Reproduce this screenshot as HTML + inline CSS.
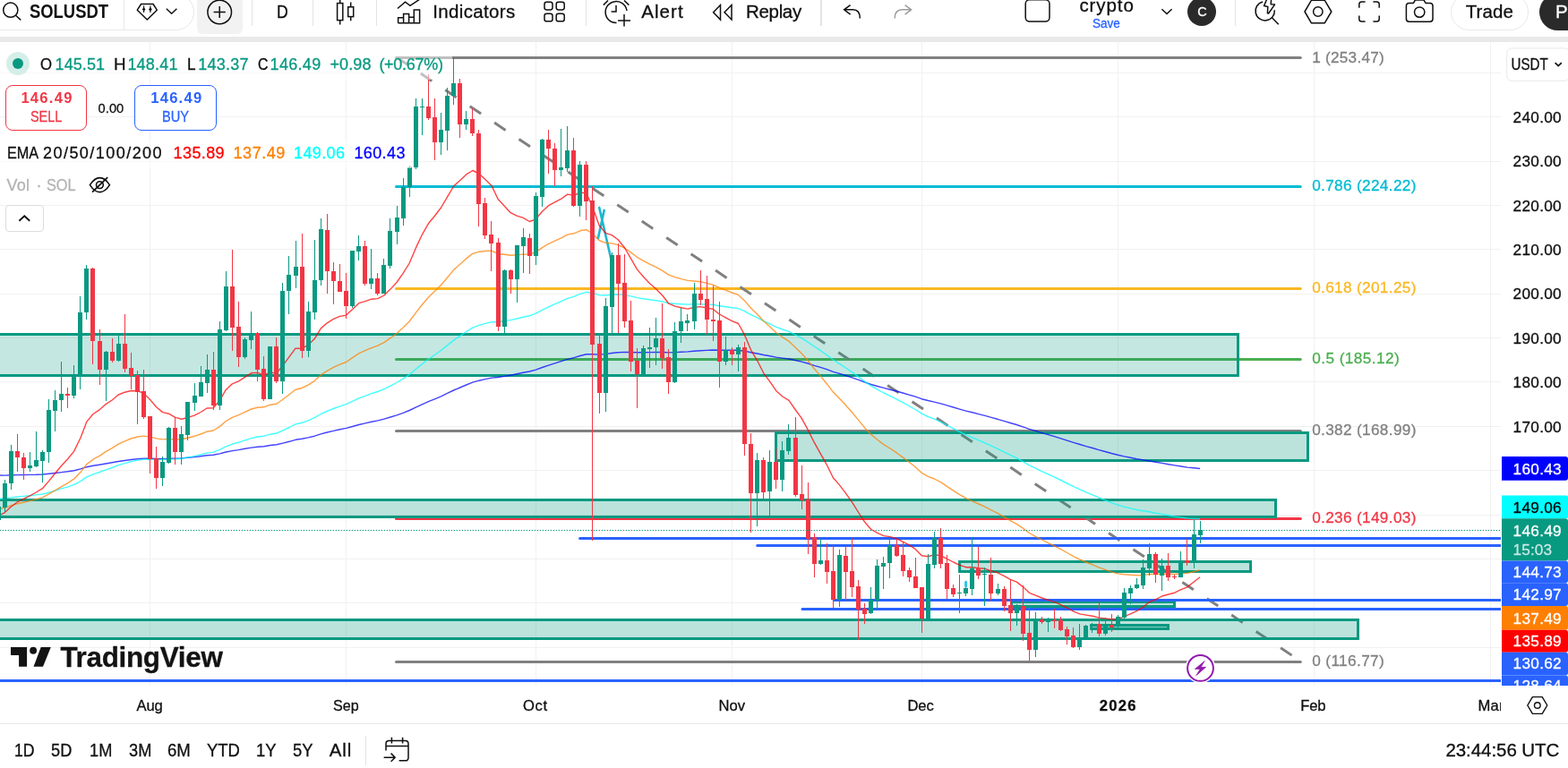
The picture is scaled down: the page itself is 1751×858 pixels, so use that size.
<!DOCTYPE html>
<html lang="en">
<head>
<meta charset="utf-8">
<title>SOLUSDT chart</title>
<style>
*{box-sizing:border-box;margin:0;padding:0}
html,body{width:1751px;height:858px;overflow:hidden;background:#fff}
body{font-family:"Liberation Sans",sans-serif;color:#0f0f0f;position:relative}
.t{position:absolute;white-space:nowrap;display:block;-webkit-text-stroke:0.3px currentColor}
.abs{position:absolute}
#topbar{position:absolute;left:0;top:0;width:1751px;height:41px;background:#fff;overflow:hidden}
#sep{position:absolute;left:0;top:41px;width:1751px;height:6px;background:#e9e9e9}
#pane{position:absolute;left:0;top:47px;width:1676px;height:719px;overflow:hidden;background:#fff}
#pane svg.chart{position:absolute;left:0;top:0}
#paxis{position:absolute;left:1676px;top:47px;width:75px;height:719px;overflow:hidden;background:#fff}
#taxis{position:absolute;left:0;top:766px;width:1751px;height:43px;background:#fff;border-bottom:1px solid #e6e6e6;overflow:hidden}
#bbar{position:absolute;left:0;top:809px;width:1751px;height:49px;background:#fff;overflow:hidden}
#legend{position:absolute;left:0;top:47px;width:520px;height:220px}
.vsep{position:absolute;width:1px;background:#e3e3e3}
</style>
</head>
<body>
<div id="topbar">
<div class="abs" style="left:-22px;top:-7px;width:239px;height:41px;border:1px solid #e8e8e8;border-radius:21px"></div>
<div class="vsep" style="left:138px;top:0;height:34px;background:#e8e8e8"></div>
<svg class="abs" style="left:0;top:0" width="30" height="30" viewBox="0 0 30 30"><circle cx="11.8" cy="11.2" r="8.1" fill="none" stroke="#0f0f0f" stroke-width="1.5"/><path d="M17.6 17.3L23.2 22.4" stroke="#0f0f0f" stroke-width="1.5" fill="none"/></svg>
<span class="t" style="left:33.40px;top:0.90px;font-size:21.4px;line-height:24px;color:#0f0f0f;font-weight:700;-webkit-text-stroke:0;transform:scaleX(0.8606);transform-origin:0 0;">SOLUSDT</span>
<svg class="abs" style="left:150px;top:0" width="52" height="30" viewBox="150 0 52 30" fill="none" stroke="#0f0f0f" stroke-width="1.5" stroke-linejoin="round"><path d="M157.6 4.5H171L175.3 11.2L164.3 22L153.3 11.2z"/><path d="M160.6 6.6V14M167.9 6.6V14" stroke-width="1.1"/><path d="M160.6 8.2L162.5 10.4L160.6 12.6L158.7 10.4zM167.9 8.2L169.8 10.4L167.9 12.6L166 10.4z" fill="#0f0f0f" stroke="none"/><path d="M185.8 9.8L191.6 15.2L197.4 9.8"/></svg>
<div class="abs" style="left:220px;top:-6px;width:51px;height:44px;background:#f2f2f2;border-radius:6px"></div>
<svg class="abs" style="left:225px;top:0" width="40" height="30" viewBox="225 0 40 30" fill="none" stroke="#0f0f0f" stroke-width="1.5"><circle cx="245.2" cy="13.5" r="13.3"/><path d="M238.6 13.5H251.8M245.2 6.9V20.1"/></svg>
<div class="vsep" style="left:280.5px;top:0;height:29px;width:1.4px"></div>
<div class="vsep" style="left:349.0px;top:0;height:29px;width:1.4px"></div>
<div class="vsep" style="left:420.0px;top:0;height:29px;width:1.4px"></div>
<div class="vsep" style="left:653.5px;top:0;height:29px;width:1.4px"></div>
<div class="vsep" style="left:916.2px;top:0;height:29px;width:1.4px"></div>
<div class="vsep" style="left:1378.5px;top:0;height:29px;width:1.4px"></div>
<span class="t" style="left:309.00px;top:0.90px;font-size:20.5px;line-height:23px;color:#0f0f0f;transform:scaleX(0.86);transform-origin:0 0;">D</span>
<svg class="abs" style="left:370px;top:0" width="32" height="30" viewBox="370 0 32 30" fill="none" stroke="#0f0f0f" stroke-width="1.5"><path d="M379.7 -1V3.6M379.7 22.6V27.6M391.7 2.5V7.8M391.7 18.6V23.2"/><rect x="376.6" y="3.6" width="6.2" height="19"/><rect x="388.7" y="7.8" width="6" height="10.8"/></svg>
<svg class="abs" style="left:440px;top:0" width="34" height="30" viewBox="440 0 34 30" fill="none" stroke="#0f0f0f" stroke-width="1.5" stroke-linejoin="miter"><path d="M444 9.5L452.5 2.2L458 6.3L469 -1"/><path d="M444.6 25.8V19.8H450.6V25.8M450.6 25.8V15.6H456.6V19.3M456.6 25.8V19.3H462.3V25.8M462.3 19.3V11H468.6V25.8H444.6"/></svg>
<span class="t" style="left:483.20px;top:0.90px;font-size:20.5px;line-height:23px;color:#0f0f0f;letter-spacing:0.347px;">Indicators</span>
<svg class="abs" style="left:604px;top:0" width="30" height="30" viewBox="604 0 30 30" fill="none" stroke="#0f0f0f" stroke-width="1.5"><rect x="608" y="2.3" width="9" height="8.6" rx="2.4"/><rect x="621.2" y="2.3" width="9" height="8.6" rx="2.4"/><rect x="608" y="15.2" width="9" height="8.6" rx="2.4"/><rect x="621.2" y="15.2" width="9" height="8.6" rx="2.4"/></svg>
<svg class="abs" style="left:668px;top:0" width="40" height="32" viewBox="668 0 40 32" fill="none" stroke="#0f0f0f" stroke-width="1.5"><path d="M688.5 25.6A12 12 0 1 1 700 12"/><path d="M688 6V13H682.6"/><path d="M673.8 5.6L679 0.5M697 0.5L702.4 5.6"/><path d="M690 23H704M697 16V29.6"/></svg>
<span class="t" style="left:716.20px;top:0.90px;font-size:20.5px;line-height:23px;color:#0f0f0f;letter-spacing:1.062px;">Alert</span>
<svg class="abs" style="left:790px;top:0" width="32" height="30" viewBox="790 0 32 30" fill="none" stroke="#0f0f0f" stroke-width="1.5" stroke-linejoin="miter"><path d="M804.5 5.5V22L796.6 13.7z"/><path d="M817 5.5V22L809 13.7z"/></svg>
<span class="t" style="left:833.00px;top:0.90px;font-size:20.5px;line-height:23px;color:#0f0f0f;letter-spacing:-0.323px;">Replay</span>
<svg class="abs" style="left:936px;top:0" width="90" height="30" viewBox="936 0 90 30" fill="none" stroke-width="1.5"><path d="M949.6 5.6L942.6 10.8L949.6 16.2M942.8 10.8H952.5Q960.3 10.8 960.3 20.5" stroke="#0f0f0f"/><path d="M1010.6 5.6L1017.6 10.8L1010.6 16.2M1017.4 10.8H1007.5Q999.2 10.8 999.2 20.5" stroke="#9c9c9c"/></svg>
<svg class="abs" style="left:1140px;top:0" width="40" height="30" viewBox="1140 0 40 30" fill="none" stroke="#0f0f0f" stroke-width="1.5"><rect x="1145.2" y="-0.2" width="26.8" height="24.2" rx="4.5"/></svg>
<span class="t" style="left:1205.40px;top:-6.50px;font-size:20.5px;line-height:23px;color:#0f0f0f;letter-spacing:0.915px;">crypto</span>
<span class="t" style="left:1220.40px;top:16.60px;font-size:15.2px;line-height:17px;color:#2962ff;transform:scaleX(0.8890);transform-origin:0 0;">Save</span>
<svg class="abs" style="left:1290px;top:0" width="26" height="30" viewBox="1290 0 26 30" fill="none" stroke="#0f0f0f" stroke-width="1.5"><path d="M1297.4 10.2L1303 15.5L1308.6 10.2"/></svg>
<div class="abs" style="left:1325.6px;top:-3.4px;width:32.4px;height:32.4px;border-radius:50%;background:#2a2a2a"></div>
<span class="t" style="left:1337.20px;top:5.00px;font-size:14.5px;line-height:16px;color:#fff;">C</span>
<svg class="abs" style="left:1398px;top:0" width="34" height="32" viewBox="1398 0 34 32" fill="none" stroke="#0f0f0f" stroke-width="1.5" stroke-linejoin="round"><path d="M1410.1 1.9A10.65 10.65 0 1 0 1423.3 11.3"/><path d="M1420.5 19.8L1427.8 27.3"/><path d="M1414.7 -1L1411.5 6.6L1415.8 7.4L1415.4 14.8L1416.6 15L1423.5 5.1L1419.2 4.7L1419.6 -1"/></svg>
<svg class="abs" style="left:1452px;top:0" width="40" height="30" viewBox="1452 0 40 30" fill="none" stroke="#0f0f0f" stroke-width="1.5" stroke-linejoin="round"><path d="M1464.5 0.2H1479.2L1486.8 13L1479.2 25.8H1464.5L1457 13z"/><circle cx="1471.8" cy="13" r="5.2"/></svg>
<svg class="abs" style="left:1512px;top:0" width="34" height="30" viewBox="1512 0 34 30" fill="none" stroke="#0f0f0f" stroke-width="1.5"><path d="M1517.8 8.8V4.8Q1517.8 2 1520.6 2H1524.6M1533.4 2H1537.4Q1540.2 2 1540.2 4.8V8.8M1540.2 17.4V21.2Q1540.2 24 1537.4 24H1533.4M1524.6 24H1520.6Q1517.8 24 1517.8 21.2V17.4"/></svg>
<svg class="abs" style="left:1565px;top:0" width="40" height="30" viewBox="1565 0 40 30" fill="none" stroke="#0f0f0f" stroke-width="1.5" stroke-linejoin="round"><path d="M1573.6 3.4H1578.4L1580.4 0H1590L1592 3.4H1596.8Q1600 3.4 1600 6.6V21Q1600 24.2 1596.8 24.2H1573.6Q1570.4 24.2 1570.4 21V6.6Q1570.4 3.4 1573.6 3.4z"/><circle cx="1585.2" cy="13.6" r="5.7"/></svg>
<div class="abs" style="left:1620px;top:-7px;width:87px;height:41px;border:1px solid #e8e8e8;border-radius:21px"></div>
<span class="t" style="left:1636.80px;top:0.90px;font-size:20.5px;line-height:23px;color:#0f0f0f;letter-spacing:0.052px;">Trade</span>
<div class="abs" style="left:1718.6px;top:-7px;width:120px;height:41px;border-radius:21px;background:#2a2a2a"></div>
<span class="t" style="left:1737.00px;top:0.90px;font-size:20.5px;line-height:23px;color:#fff;">Publish</span>
</div>
<div id="sep"></div>
<div id="pane">
<svg class="chart" width="1676" height="719" viewBox="0 47 1676 719" font-family='"Liberation Sans", sans-serif'>
<path d="M0 81.5H1676 M0 130.5H1676 M0 180.5H1676 M0 229.5H1676 M0 278.5H1676 M0 328.5H1676 M0 377.5H1676 M0 426.5H1676 M0 476.5H1676 M0 525.5H1676 M0 575.5H1676 M0 624.5H1676 M0 673.5H1676 M0 723.5H1676 M167.5 47V766 M386.5 47V766 M598.5 47V766 M817.5 47V766 M1029.5 47V766 M1248.5 47V766 M1467.5 47V766 M1664.5 47V766" stroke="#f1f1f1" stroke-width="1" fill="none"/>
<path d="M442.5 64.5H1452.3" stroke="#808080" stroke-width="3" stroke-linecap="round" fill="none"/>
<path d="M442.5 208.5H1452.3" stroke="#00bcd4" stroke-width="3" stroke-linecap="round" fill="none"/>
<path d="M442.5 322.5H1452.3" stroke="#fab823" stroke-width="3" stroke-linecap="round" fill="none"/>
<path d="M442.5 401.5H1452.3" stroke="#4caf50" stroke-width="3" stroke-linecap="round" fill="none"/>
<path d="M442.5 481.5H1452.3" stroke="#808080" stroke-width="3" stroke-linecap="round" fill="none"/>
<path d="M442.5 579.5H1452.3" stroke="#f23645" stroke-width="3" stroke-linecap="round" fill="none"/>
<path d="M442.5 739.5H1452.3" stroke="#808080" stroke-width="3" stroke-linecap="round" fill="none"/>
<path d="M443.5 64.5L1453.6 739.5" stroke="#808080" stroke-width="3" stroke-dasharray="15 18" stroke-dashoffset="1.4" fill="none"/>
<rect x="-10" y="373.5" width="1392.5" height="46.0" fill="#089981" fill-opacity="0.235" stroke="#089981" stroke-width="3"/>
<rect x="866.5" y="483.5" width="594.0" height="31.0" fill="#089981" fill-opacity="0.275" stroke="#089981" stroke-width="3"/>
<rect x="-10" y="558.5" width="1434.5" height="19.0" fill="#089981" fill-opacity="0.275" stroke="#089981" stroke-width="3"/>
<rect x="1071.6" y="627.5" width="324.9" height="11.0" fill="#089981" fill-opacity="0.275" stroke="#089981" stroke-width="3"/>
<rect x="-10" y="692.5" width="1526.5" height="21.0" fill="#089981" fill-opacity="0.275" stroke="#089981" stroke-width="3"/>
<rect x="1129.5" y="672.5" width="182.0" height="5.0" fill="#089981" fill-opacity="0.275" stroke="#089981" stroke-width="3"/>
<rect x="1218.7" y="698.5" width="85.8" height="4.0" fill="#089981" fill-opacity="0.275" stroke="#089981" stroke-width="3"/>
<path d="M647.6 601.5H1681" stroke="#2962ff" stroke-width="3" stroke-linecap="round" fill="none"/>
<path d="M845.7 609.5H1681" stroke="#2962ff" stroke-width="3" stroke-linecap="round" fill="none"/>
<path d="M931.2 670.5H1681" stroke="#2962ff" stroke-width="3" stroke-linecap="round" fill="none"/>
<path d="M896 680.5H1681" stroke="#2962ff" stroke-width="3" stroke-linecap="round" fill="none"/>
<path d="M-5 760.5H1681" stroke="#2962ff" stroke-width="3" stroke-linecap="round" fill="none"/>
<path d="M669.2 231.9L682.2 288.5M674.7 234.9L667.9 266.1" stroke="#1fb6d1" stroke-width="2.6" stroke-linecap="round" fill="none"/>
<polyline points="-2.0,531.0 5.1,531.1 12.2,530.8 19.2,530.6 26.3,530.5 33.4,530.4 40.4,530.3 47.5,530.0 54.6,529.3 61.6,528.5 68.7,527.6 75.7,526.8 82.8,525.7 89.9,523.9 96.9,521.7 104.0,520.3 111.1,519.2 118.1,518.0 125.2,516.8 132.2,515.5 139.3,514.5 146.4,513.5 153.4,512.8 160.5,512.3 167.6,512.3 174.6,512.5 181.7,512.6 188.8,512.2 195.8,512.2 202.9,511.9 209.9,511.3 217.0,510.6 224.1,509.8 231.1,508.8 238.2,508.2 245.3,506.9 252.3,505.0 259.4,503.6 266.5,502.6 273.5,501.3 280.6,500.1 287.6,499.2 294.7,498.7 301.8,497.5 308.8,496.8 315.9,495.1 323.0,493.3 330.0,491.3 337.1,490.3 344.1,488.9 351.2,487.2 358.3,484.9 365.3,483.0 372.4,481.4 379.5,479.8 386.5,478.4 393.6,476.5 400.7,474.5 407.7,472.9 414.8,471.3 421.8,469.9 428.9,468.1 436.0,466.0 443.0,463.8 450.1,461.3 457.2,458.5 464.2,455.2 471.3,451.8 478.4,448.6 485.4,445.8 492.5,442.8 499.5,439.4 506.6,436.0 513.7,433.0 520.7,430.0 527.8,427.2 534.9,425.2 541.9,423.6 549.0,422.1 556.0,421.5 563.1,420.4 570.2,419.3 577.2,417.8 584.3,416.3 591.4,415.0 598.4,413.1 605.5,410.5 612.6,408.1 619.6,405.9 626.7,403.7 633.7,401.4 640.8,399.7 647.9,397.5 654.9,395.8 662.0,395.7 669.1,396.1 676.1,395.6 683.2,394.5 690.2,393.7 697.3,393.4 704.4,393.5 711.4,393.7 718.5,393.7 725.6,393.6 732.6,393.5 739.7,393.5 746.8,393.9 753.8,393.6 760.9,393.3 767.9,392.9 775.0,392.3 782.1,391.7 789.1,391.4 796.2,391.0 803.3,391.2 810.3,391.2 817.4,391.2 824.5,391.2 831.5,392.2 838.6,393.8 845.6,395.0 852.7,396.5 859.8,397.7 866.8,399.1 873.9,400.1 881.0,401.0 888.0,402.5 895.1,404.1 902.1,406.0 909.2,408.3 916.3,410.4 923.3,412.7 930.4,415.3 937.5,417.3 944.5,419.5 951.6,421.9 958.7,424.4 965.7,427.0 972.8,429.5 979.8,431.5 986.9,433.4 994.0,435.2 1001.0,437.0 1008.1,439.0 1015.2,441.1 1022.2,443.2 1029.3,445.7 1036.4,447.5 1043.4,449.1 1050.5,450.9 1057.5,452.9 1064.6,455.0 1071.7,457.1 1078.7,459.1 1085.8,460.8 1092.9,462.6 1099.9,464.4 1107.0,466.4 1114.0,468.3 1121.1,470.4 1128.2,472.5 1135.2,474.5 1142.3,476.8 1149.4,479.3 1156.4,481.4 1163.5,483.6 1170.6,485.7 1177.6,487.7 1184.7,489.9 1191.7,492.1 1198.8,494.4 1205.9,496.5 1212.9,498.6 1220.0,500.5 1227.1,502.6 1234.1,504.5 1241.2,506.5 1248.2,508.3 1255.3,509.9 1262.4,511.3 1269.4,512.7 1276.5,513.9 1283.6,515.0 1290.6,516.3 1297.7,517.4 1304.8,518.7 1311.8,519.9 1318.9,521.0 1325.9,522.1 1333.0,522.8 1340.1,523.5" fill="none" stroke="#0000ff" stroke-opacity="0.74" stroke-width="1.4" stroke-linejoin="round"/>
<polyline points="-2.0,557.3 5.1,557.0 12.2,555.9 19.2,555.0 26.3,554.4 33.4,553.7 40.4,552.9 47.5,552.0 54.6,550.1 61.6,548.1 68.7,545.9 75.7,543.9 82.8,541.4 89.9,537.6 96.9,532.9 104.0,529.9 111.1,527.5 118.1,524.9 125.2,522.5 132.2,519.7 139.3,517.6 146.4,515.7 153.4,514.1 160.5,513.2 167.6,513.2 174.6,513.6 181.7,513.6 188.8,512.9 195.8,512.8 202.9,512.2 209.9,511.0 217.0,509.6 224.1,508.0 231.1,506.1 238.2,505.1 245.3,502.4 252.3,498.8 259.4,496.1 266.5,494.2 273.5,491.9 280.6,489.6 287.6,488.0 294.7,487.2 301.8,485.2 308.8,484.0 315.9,480.9 323.0,477.5 330.0,473.9 337.1,472.3 344.1,469.8 351.2,466.7 358.3,462.5 365.3,459.4 372.4,456.5 379.5,453.9 386.5,451.7 393.6,448.3 400.7,444.9 407.7,442.3 414.8,439.7 421.8,437.5 428.9,434.7 436.0,431.2 443.0,427.5 450.1,423.2 457.2,418.5 464.2,412.5 471.3,406.7 478.4,401.3 485.4,396.5 492.5,391.5 499.5,385.9 506.6,380.1 513.7,375.3 520.7,370.5 527.8,366.1 534.9,363.4 541.9,361.4 549.0,359.6 556.0,359.7 563.1,358.5 570.2,357.6 577.2,356.0 584.3,354.2 591.4,352.8 598.4,350.2 605.5,346.3 612.6,342.8 619.6,339.7 626.7,336.7 633.7,333.4 640.8,331.3 647.9,328.4 654.9,326.3 662.0,327.5 669.1,329.7 676.1,330.0 683.2,329.1 690.2,328.8 697.3,329.4 704.4,330.9 711.4,332.6 718.5,333.7 725.6,334.8 732.6,335.7 739.7,336.9 746.8,338.7 753.8,339.3 760.9,339.7 767.9,340.1 775.0,339.8 782.1,339.7 789.1,340.1 796.2,340.4 803.3,341.7 810.3,342.7 817.4,343.7 824.5,344.6 831.5,347.6 838.6,351.6 845.6,354.8 852.7,358.7 859.8,361.8 866.8,365.3 873.9,368.0 881.0,370.4 888.0,374.0 895.1,377.7 902.1,382.1 909.2,387.0 916.3,391.7 923.3,396.6 930.4,402.0 937.5,406.4 944.5,411.0 951.6,415.8 958.7,421.1 965.7,426.3 972.8,431.1 979.8,435.1 986.9,439.0 994.0,442.3 1001.0,445.9 1008.1,449.7 1015.2,453.5 1022.2,457.5 1029.3,462.2 1036.4,465.5 1043.4,468.2 1050.5,471.4 1057.5,475.1 1064.6,478.8 1071.7,482.4 1078.7,485.9 1085.8,488.9 1092.9,491.9 1099.9,494.9 1107.0,498.2 1114.0,501.3 1121.1,504.8 1128.2,508.4 1135.2,511.7 1142.3,515.6 1149.4,519.8 1156.4,523.2 1163.5,526.6 1170.6,529.9 1177.6,533.1 1184.7,536.5 1191.7,540.0 1198.8,543.6 1205.9,546.9 1212.9,549.9 1220.0,552.9 1227.1,555.9 1234.1,558.8 1241.2,561.6 1248.2,564.1 1255.3,566.1 1262.4,567.9 1269.4,569.5 1276.5,570.8 1283.6,571.8 1290.6,573.2 1297.7,574.4 1304.8,575.7 1311.8,577.1 1318.9,578.1 1325.9,579.1 1333.0,579.5 1340.1,579.7" fill="none" stroke="#00ffff" stroke-opacity="0.74" stroke-width="1.4" stroke-linejoin="round"/>
<polyline points="-2.0,568.5 5.1,567.4 12.2,564.9 19.2,562.8 26.3,561.2 33.4,559.6 40.4,557.8 47.5,555.8 54.6,551.9 61.6,547.8 68.7,543.6 75.7,539.6 82.8,534.9 89.9,527.6 96.9,518.6 104.0,513.2 111.1,509.3 118.1,504.7 125.2,500.7 132.2,496.2 139.3,492.9 146.4,490.0 153.4,488.0 160.5,487.1 167.6,488.1 174.6,489.9 181.7,490.9 188.8,490.4 195.8,491.0 202.9,490.8 209.9,489.2 217.0,487.3 224.1,485.0 231.1,482.2 238.2,481.0 245.3,476.6 252.3,470.5 259.4,466.4 266.5,463.7 273.5,460.4 280.6,457.0 287.6,455.2 294.7,454.8 301.8,452.2 308.8,451.2 315.9,446.2 323.0,440.8 330.0,435.2 337.1,433.5 344.1,430.1 351.2,425.6 358.3,418.9 365.3,414.3 372.4,410.4 379.5,407.1 386.5,404.5 393.6,399.6 400.7,394.8 407.7,391.7 414.8,388.6 421.8,386.2 428.9,382.6 436.0,377.7 443.0,372.5 450.1,366.0 457.2,359.0 464.2,349.6 471.3,340.5 478.4,332.3 485.4,325.5 492.5,318.5 499.5,310.2 506.6,301.6 513.7,295.2 520.7,288.9 527.8,283.4 534.9,281.2 541.9,280.5 549.0,280.1 556.0,283.5 563.1,284.2 570.2,285.3 577.2,284.8 584.3,284.1 591.4,284.1 598.4,281.6 605.5,276.6 612.6,272.3 619.6,269.1 626.7,265.9 633.7,262.1 640.8,260.8 647.9,257.8 654.9,256.5 662.0,261.5 669.1,268.5 676.1,271.3 683.2,271.9 690.2,273.6 697.3,277.0 704.4,281.9 711.4,287.3 718.5,291.3 725.6,295.1 732.6,298.3 739.7,302.3 746.8,307.2 753.8,309.6 760.9,311.6 767.9,313.4 775.0,314.0 782.1,314.8 789.1,316.4 796.2,318.1 803.3,321.5 810.3,324.2 817.4,327.0 824.5,329.4 831.5,335.9 838.6,344.3 845.6,351.0 852.7,358.8 859.8,365.0 866.8,371.7 873.9,376.8 881.0,381.2 888.0,388.0 895.1,394.7 902.1,402.8 909.2,411.7 916.3,420.1 923.3,428.7 930.4,438.1 937.5,445.3 944.5,452.8 951.6,460.8 958.7,469.4 965.7,477.9 972.8,485.4 979.8,491.2 986.9,496.6 994.0,501.0 1001.0,505.7 1008.1,510.9 1015.2,516.2 1022.2,521.7 1029.3,528.3 1036.4,532.3 1043.4,535.0 1050.5,538.7 1057.5,543.4 1064.6,548.1 1071.7,552.6 1078.7,556.7 1085.8,559.8 1092.9,563.0 1099.9,566.1 1107.0,569.9 1114.0,573.3 1121.1,577.4 1128.2,581.6 1135.2,585.3 1142.3,590.1 1149.4,595.5 1156.4,599.3 1163.5,603.0 1170.6,606.6 1177.6,610.0 1184.7,613.7 1191.7,617.5 1198.8,621.6 1205.9,625.1 1212.9,628.0 1220.0,630.8 1227.1,633.8 1234.1,636.3 1241.2,638.9 1248.2,640.9 1255.3,641.7 1262.4,642.3 1269.4,642.7 1276.5,642.4 1283.6,641.5 1290.6,641.5 1297.7,641.2 1304.8,641.3 1311.8,641.5 1318.9,640.8 1325.9,640.4 1333.0,638.7 1340.1,636.9" fill="none" stroke="#ff8000" stroke-opacity="0.74" stroke-width="1.4" stroke-linejoin="round"/>
<polyline points="-2.0,576.2 5.1,572.8 12.2,566.2 19.2,561.0 26.3,557.3 33.4,553.8 40.4,550.0 47.5,545.7 54.6,537.4 61.6,528.8 68.7,520.3 75.7,512.8 82.8,503.9 89.9,489.2 96.9,471.1 104.0,462.5 111.1,457.8 118.1,451.6 125.2,447.0 132.2,441.0 139.3,438.2 146.4,436.5 153.4,436.7 160.5,439.4 167.6,446.4 174.6,454.7 181.7,460.6 188.8,462.3 195.8,466.4 202.9,468.2 209.9,466.4 217.0,464.1 224.1,460.5 231.1,456.0 238.2,455.8 245.3,447.5 252.3,435.4 259.4,428.8 266.5,425.9 273.5,421.4 280.6,416.8 287.6,416.4 294.7,419.2 301.8,416.1 308.8,417.0 315.9,408.3 323.0,398.7 330.0,389.1 337.1,389.4 344.1,385.4 351.2,378.6 358.3,366.9 365.3,360.8 372.4,356.4 379.5,353.4 386.5,352.3 393.6,345.4 400.7,338.7 407.7,336.7 414.8,334.2 421.8,333.6 428.9,330.0 436.0,323.1 443.0,315.5 450.1,305.3 457.2,294.0 464.2,277.4 471.3,262.3 478.4,249.8 485.4,241.2 492.5,232.0 499.5,220.1 506.6,208.0 513.7,201.4 520.7,194.9 527.8,190.5 534.9,194.0 541.9,200.6 549.0,207.4 556.0,222.3 563.1,229.9 570.2,237.7 577.2,241.2 584.3,243.4 591.4,247.5 598.4,244.8 605.5,236.3 612.6,229.7 619.6,225.9 626.7,222.2 633.7,217.1 640.8,218.3 647.9,215.0 654.9,215.9 662.0,232.0 669.1,251.7 676.1,260.3 683.2,262.6 690.2,267.8 697.3,276.5 704.4,288.6 711.4,300.9 718.5,309.3 725.6,316.8 732.6,322.7 739.7,330.0 746.8,339.2 753.8,342.1 760.9,343.7 767.9,345.1 775.0,343.5 782.1,342.6 789.1,344.0 796.2,345.4 803.3,351.0 810.3,354.8 817.4,358.7 824.5,361.5 831.5,374.2 838.6,391.1 845.6,402.8 852.7,416.8 859.8,426.3 866.8,436.7 873.9,443.0 881.0,447.4 888.0,457.5 895.1,467.1 902.1,479.9 909.2,494.2 916.3,506.8 923.3,519.3 930.4,533.7 937.5,541.9 944.5,551.1 951.6,561.1 958.7,572.5 965.7,583.3 972.8,591.5 979.8,595.4 986.9,598.6 994.0,599.6 1001.0,601.6 1008.1,605.1 1015.2,608.9 1022.2,613.4 1029.3,620.8 1036.4,621.7 1043.4,619.8 1050.5,620.7 1057.5,624.3 1064.6,628.0 1071.7,631.3 1078.7,633.7 1085.8,633.8 1092.9,634.7 1099.9,635.3 1107.0,637.9 1114.0,639.8 1121.1,643.3 1128.2,647.3 1135.2,650.1 1142.3,655.6 1149.4,662.3 1156.4,665.2 1163.5,668.0 1170.6,670.4 1177.6,672.7 1184.7,675.7 1191.7,679.0 1198.8,683.2 1205.9,685.9 1212.9,687.1 1220.0,688.2 1227.1,690.1 1234.1,690.9 1241.2,691.9 1248.2,691.6 1255.3,688.8 1262.4,685.8 1269.4,682.7 1276.5,678.1 1283.6,672.5 1290.6,669.6 1297.7,666.0 1304.8,664.0 1311.8,662.2 1318.9,658.7 1325.9,655.9 1333.0,650.3 1340.1,644.8" fill="none" stroke="#ff0000" stroke-opacity="0.74" stroke-width="1.4" stroke-linejoin="round"/>
<g class="candles" shape-rendering="crispEdges">
<path d="M-1.5 562V584 M5.5 536V572 M12.5 497V547 M33.5 505V527 M40.5 482V522 M47.5 503V539 M54.5 446V517 M61.5 436V482 M68.5 404V460 M82.5 408V445 M89.5 331V435 M96.5 296V357 M118.5 392V448 M132.5 375V404 M181.5 510V543 M188.5 477V518 M202.5 476V519 M209.5 449V492 M217.5 428V459 M224.5 409V443 M231.5 396V439 M245.5 359V458 M252.5 303V370 M273.5 377V401 M280.5 348V390 M301.5 387V446 M315.5 316V440 M322.5 286V351 M330.5 269V322 M344.5 337V399 M351.5 268V357 M358.5 244V319 M393.5 280V344 M400.5 263V291 M414.5 278V323 M428.5 289V328 M435.5 244V300 M443.5 230V273 M450.5 199V252 M457.5 185V220 M464.5 110V189 M471.5 110V151 M492.5 126V173 M499.5 98V168 M506.5 64V117 M520.5 124V145 M563.5 301V372 M577.5 274V338 M584.5 255V305 M598.5 215V296 M605.5 155V231 M626.5 144V197 M633.5 141V192 M647.5 180V242 M676.5 333V460 M683.5 282V372 M718.5 386V419 M725.5 366V411 M732.5 355V408 M753.5 360V428 M760.5 344V383 M767.5 351V370 M775.5 316V368 M810.5 376V408 M824.5 385V415 M845.5 506V588 M859.5 503V577 M873.5 493V549 M880.5 474V508 M916.5 602V631 M937.5 614V678 M972.5 656V686 M979.5 625V681 M986.5 622V658 M993.5 601V646 M1036.5 619V691 M1043.5 594V635 M1071.5 642V685 M1078.5 649V666 M1085.5 600V665 M1099.5 634V677 M1114.5 652V665 M1135.5 675V699 M1156.5 684V734 M1170.5 690V706 M1205.5 697V726 M1212.5 698V713 M1219.5 696V707 M1234.5 690V710 M1248.5 687V703 M1255.5 657V691 M1262.5 654V675 M1269.5 646V658 M1276.5 625V658 M1283.5 607V643 M1297.5 624V660 M1318.5 616V645 M1333.5 581V635 M1340.5 582V607" stroke="#089981" stroke-width="1" fill="none"/>
<path d="M19.5 485V527 M26.5 506V536 M75.5 433V456 M103.5 299V407 M111.5 368V430 M125.5 378V405 M139.5 351V416 M146.5 394V435 M153.5 414V474 M160.5 413V468 M167.5 465V529 M174.5 499V546 M195.5 466V519 M238.5 393V458 M259.5 279V392 M266.5 337V410 M287.5 371V426 M294.5 398V448 M308.5 377V428 M337.5 261V400 M365.5 239V328 M372.5 293V340 M379.5 295V326 M386.5 305V356 M407.5 269V319 M421.5 305V330 M478.5 83V134 M485.5 110V179 M513.5 88V154 M527.5 121V152 M534.5 145V253 M541.5 221V267 M548.5 247V303 M556.5 266V370 M570.5 301V328 M591.5 261V306 M612.5 145V194 M619.5 160V208 M640.5 154V231 M654.5 180V246 M661.5 208V604 M669.5 372V462 M690.5 272V372 M697.5 284V366 M704.5 336V415 M711.5 389V456 M739.5 339V412 M746.5 390V440 M782.5 302V341 M789.5 308V374 M796.5 319V381 M803.5 337V433 M817.5 388V408 M831.5 382V509 M838.5 484V595 M852.5 511V557 M866.5 501V546 M888.5 466V555 M895.5 520V569 M902.5 539V619 M909.5 596V645 M923.5 607V652 M930.5 609V679 M944.5 610V671 M951.5 601V667 M958.5 648V715 M965.5 674V697 M1001.5 602V622 M1008.5 606V644 M1015.5 634V650 M1022.5 623V657 M1029.5 656V707 M1050.5 590V635 M1057.5 620V669 M1064.5 653V667 M1092.5 611V647 M1106.5 623V671 M1121.5 655V683 M1128.5 647V705 M1142.5 654V716 M1149.5 678V738 M1163.5 689V697 M1177.5 680V702 M1184.5 689V705 M1191.5 700V720 M1198.5 701V724 M1227.5 673V711 M1241.5 686V706 M1290.5 617V651 M1304.5 618V649 M1311.5 642V647 M1325.5 602V632" stroke="#f23645" stroke-width="1" fill="none"/>
<path d="M-4.0 566h5V581h-5z M3.0 540h5V567h-5z M10.0 504h5V540h-5z M31.0 520h5V523h-5z M38.0 514h5V521h-5z M45.0 505h5V515h-5z M52.0 458h5V505h-5z M59.0 447h5V459h-5z M66.0 440h5V447h-5z M80.0 419h5V442h-5z M87.0 349h5V419h-5z M94.0 300h5V349h-5z M116.0 393h5V413h-5z M130.0 384h5V403h-5z M179.0 516h5V534h-5z M186.0 478h5V517h-5z M200.0 485h5V505h-5z M207.0 449h5V486h-5z M215.0 442h5V450h-5z M222.0 427h5V443h-5z M229.0 413h5V428h-5z M243.0 368h5V453h-5z M250.0 320h5V369h-5z M271.0 379h5V399h-5z M278.0 372h5V380h-5z M299.0 387h5V446h-5z M313.0 325h5V426h-5z M320.0 307h5V325h-5z M328.0 298h5V308h-5z M342.0 348h5V392h-5z M349.0 313h5V349h-5z M356.0 256h5V313h-5z M391.0 280h5V342h-5z M398.0 275h5V281h-5z M412.0 311h5V317h-5z M426.0 296h5V328h-5z M433.0 258h5V297h-5z M441.0 243h5V259h-5z M448.0 209h5V244h-5z M455.0 187h5V209h-5z M462.0 119h5V187h-5z M469.0 119h5V120h-5z M490.0 145h5V159h-5z M497.0 107h5V146h-5z M504.0 93h5V107h-5z M518.0 133h5V139h-5z M561.0 302h5V365h-5z M575.0 274h5V312h-5z M582.0 265h5V275h-5z M596.0 219h5V286h-5z M603.0 156h5V220h-5z M624.0 187h5V190h-5z M631.0 168h5V188h-5z M645.0 184h5V230h-5z M674.0 342h5V439h-5z M681.0 285h5V343h-5z M716.0 389h5V419h-5z M723.0 388h5V390h-5z M730.0 378h5V388h-5z M751.0 370h5V427h-5z M758.0 359h5V370h-5z M765.0 358h5V361h-5z M773.0 328h5V359h-5z M808.0 391h5V404h-5z M822.0 388h5V396h-5z M843.0 514h5V551h-5z M857.0 516h5V549h-5z M871.0 503h5V536h-5z M878.0 489h5V504h-5z M914.0 626h5V630h-5z M935.0 620h5V670h-5z M970.0 670h5V685h-5z M977.0 632h5V671h-5z M984.0 629h5V633h-5z M991.0 609h5V629h-5z M1034.0 630h5V691h-5z M1041.0 601h5V631h-5z M1069.0 662h5V663h-5z M1076.0 657h5V663h-5z M1083.0 635h5V658h-5z M1097.0 641h5V642h-5z M1112.0 658h5V663h-5z M1133.0 677h5V685h-5z M1154.0 692h5V726h-5z M1168.0 693h5V695h-5z M1203.0 712h5V723h-5z M1210.0 699h5V713h-5z M1217.0 698h5V700h-5z M1232.0 698h5V708h-5z M1246.0 689h5V700h-5z M1253.0 662h5V690h-5z M1260.0 657h5V663h-5z M1267.0 653h5V657h-5z M1274.0 634h5V654h-5z M1281.0 619h5V635h-5z M1295.0 632h5V643h-5z M1316.0 626h5V645h-5z M1331.0 597h5V627h-5z M1338.0 592h5V598h-5z" fill="#089981"/>
<path d="M17.0 504h5V511h-5z M24.0 511h5V523h-5z M73.0 440h5V442h-5z M101.0 300h5V381h-5z M109.0 381h5V413h-5z M123.0 393h5V403h-5z M137.0 384h5V412h-5z M144.0 411h5V420h-5z M151.0 419h5V438h-5z M158.0 437h5V466h-5z M165.0 465h5V513h-5z M172.0 512h5V534h-5z M193.0 478h5V505h-5z M236.0 413h5V453h-5z M257.0 320h5V366h-5z M264.0 365h5V399h-5z M285.0 372h5V413h-5z M292.0 412h5V446h-5z M306.0 387h5V426h-5z M335.0 298h5V392h-5z M363.0 257h5V303h-5z M370.0 303h5V314h-5z M377.0 314h5V326h-5z M384.0 325h5V342h-5z M405.0 275h5V317h-5z M419.0 311h5V328h-5z M476.0 119h5V132h-5z M483.0 131h5V159h-5z M511.0 93h5V139h-5z M525.0 133h5V149h-5z M532.0 149h5V228h-5z M539.0 227h5V263h-5z M546.0 262h5V272h-5z M554.0 271h5V365h-5z M568.0 302h5V312h-5z M589.0 266h5V286h-5z M610.0 156h5V166h-5z M617.0 166h5V190h-5z M638.0 168h5V230h-5z M652.0 184h5V225h-5z M659.0 224h5V385h-5z M667.0 384h5V439h-5z M688.0 285h5V317h-5z M695.0 316h5V359h-5z M702.0 358h5V404h-5z M709.0 403h5V418h-5z M737.0 378h5V400h-5z M744.0 399h5V427h-5z M780.0 328h5V335h-5z M787.0 334h5V357h-5z M794.0 357h5V359h-5z M801.0 358h5V404h-5z M815.0 391h5V396h-5z M829.0 388h5V496h-5z M836.0 496h5V551h-5z M850.0 514h5V550h-5z M864.0 516h5V536h-5z M886.0 489h5V553h-5z M893.0 552h5V559h-5z M900.0 558h5V602h-5z M907.0 600h5V630h-5z M921.0 626h5V639h-5z M928.0 638h5V670h-5z M942.0 621h5V639h-5z M949.0 638h5V656h-5z M956.0 655h5V681h-5z M963.0 680h5V686h-5z M999.0 609h5V621h-5z M1006.0 620h5V638h-5z M1013.0 637h5V645h-5z M1020.0 644h5V657h-5z M1027.0 656h5V691h-5z M1048.0 601h5V630h-5z M1055.0 629h5V658h-5z M1062.0 657h5V664h-5z M1090.0 635h5V643h-5z M1104.0 642h5V663h-5z M1119.0 658h5V677h-5z M1126.0 676h5V685h-5z M1140.0 677h5V708h-5z M1147.0 707h5V726h-5z M1161.0 692h5V695h-5z M1175.0 693h5V694h-5z M1182.0 693h5V704h-5z M1189.0 703h5V711h-5z M1196.0 710h5V723h-5z M1225.0 697h5V708h-5z M1239.0 698h5V701h-5z M1288.0 619h5V642h-5z M1302.0 632h5V645h-5z M1309.0 644h5V645h-5z M1323.0 626h5V629h-5z" fill="#f23645"/>
</g>
<path d="M1078.6 650.2V654.8" stroke="#2cc6ea" stroke-width="3" stroke-linecap="round" fill="none"/>
<path d="M-0.3 592.5H1676" stroke="#089981" stroke-width="1" stroke-dasharray="1.4 1.6" fill="none"/>
<text x="1465.20" y="69.90" font-size="17.2" fill="#808080" stroke="#808080" stroke-width="0.3" textLength="80.60" lengthAdjust="spacing">1 (253.47)</text>
<text x="1465.20" y="213.40" font-size="17.2" fill="#00bcd4" stroke="#00bcd4" stroke-width="0.3" textLength="116.20" lengthAdjust="spacing">0.786 (224.22)</text>
<text x="1465.20" y="327.40" font-size="17.2" fill="#fab823" stroke="#fab823" stroke-width="0.3" textLength="116.20" lengthAdjust="spacing">0.618 (201.25)</text>
<text x="1465.20" y="406.40" font-size="17.2" fill="#4caf50" stroke="#4caf50" stroke-width="0.3" textLength="97.60" lengthAdjust="spacing">0.5 (185.12)</text>
<text x="1465.20" y="486.40" font-size="17.2" fill="#808080" stroke="#808080" stroke-width="0.3" textLength="116.20" lengthAdjust="spacing">0.382 (168.99)</text>
<text x="1465.20" y="584.40" font-size="17.2" fill="#f23645" stroke="#f23645" stroke-width="0.3" textLength="116.20" lengthAdjust="spacing">0.236 (149.03)</text>
<text x="1465.20" y="744.40" font-size="17.2" fill="#808080" stroke="#808080" stroke-width="0.3" textLength="80.60" lengthAdjust="spacing">0 (116.77)</text>
<g transform="translate(1340.5 746.4)"><circle r="16.9" fill="#fff"/><circle r="14.4" fill="#fff" stroke="#9418ae" stroke-width="2"/><path d="M4.7 -7.9L-6.1 1H-0.3L-4.7 8.3L6.1 -1.05H0.6z" fill="#9418ae" stroke="#9418ae" stroke-width="0.7" stroke-linejoin="round"/></g>
<g class="logo"><path d="M12 722.9H30.1V744.8H21.1V732H12z" fill="#131313"/><circle cx="37.1" cy="726.7" r="3.95" fill="#131313"/><path d="M45.7 722.9H56.8L48 744.8H37.5z" fill="#131313"/><text x="67.40" y="744.80" font-size="31.4" fill="#131313" stroke="#131313" stroke-width="0.3" textLength="181.40" lengthAdjust="spacing" font-weight="700">TradingView</text></g>
</svg>
</div>
<div id="paxis">
<svg class="axis" width="75" height="719" viewBox="1676 47 75 719" font-family='"Liberation Sans", sans-serif'>
<text x="1689.60" y="136.92" font-size="17.2" fill="#0f0f0f" stroke="#0f0f0f" stroke-width="0.3" textLength="54.00" lengthAdjust="spacing">240.00</text>
<text x="1689.60" y="186.29" font-size="17.2" fill="#0f0f0f" stroke="#0f0f0f" stroke-width="0.3" textLength="54.00" lengthAdjust="spacing">230.00</text>
<text x="1689.60" y="235.66" font-size="17.2" fill="#0f0f0f" stroke="#0f0f0f" stroke-width="0.3" textLength="54.00" lengthAdjust="spacing">220.00</text>
<text x="1689.60" y="285.03" font-size="17.2" fill="#0f0f0f" stroke="#0f0f0f" stroke-width="0.3" textLength="54.00" lengthAdjust="spacing">210.00</text>
<text x="1689.60" y="334.40" font-size="17.2" fill="#0f0f0f" stroke="#0f0f0f" stroke-width="0.3" textLength="54.00" lengthAdjust="spacing">200.00</text>
<text x="1689.60" y="383.77" font-size="17.2" fill="#0f0f0f" stroke="#0f0f0f" stroke-width="0.3" textLength="54.00" lengthAdjust="spacing">190.00</text>
<text x="1689.60" y="433.14" font-size="17.2" fill="#0f0f0f" stroke="#0f0f0f" stroke-width="0.3" textLength="54.00" lengthAdjust="spacing">180.00</text>
<text x="1689.60" y="482.51" font-size="17.2" fill="#0f0f0f" stroke="#0f0f0f" stroke-width="0.3" textLength="54.00" lengthAdjust="spacing">170.00</text>
<path d="M1677 510.1H1748q3 0 3 3V533.8q0 3 -3 3H1677z" fill="#0000ff"/>
<text x="1689.60" y="529.80" font-size="17.2" fill="#fff" stroke="#fff" stroke-width="0.3" textLength="54.00" lengthAdjust="spacing">160.43</text>
<path d="M1677 553.5H1748q3 0 3 3V576.3q0 3 -3 3H1677z" fill="#00ffff"/>
<text x="1689.60" y="572.70" font-size="17.2" fill="#000" stroke="#000" stroke-width="0.3" textLength="54.00" lengthAdjust="spacing">149.06</text>
<path d="M1677 579.3H1748q3 0 3 3V623.5q0 3 -3 3H1677z" fill="#089981"/>
<text x="1689.60" y="598.60" font-size="17.2" fill="#fff" stroke="#fff" stroke-width="0.3" textLength="54.00" lengthAdjust="spacing">146.49</text>
<text x="1689.60" y="619.60" font-size="17.2" fill="#fff" stroke="#fff" stroke-width="0.3" textLength="43.50" lengthAdjust="spacing" fill-opacity="0.75" stroke-opacity="0.6">15:03</text>
<path d="M1677 626.5H1748q3 0 3 3V648.3q0 3 -3 3H1677z" fill="#2962ff"/>
<text x="1689.60" y="644.60" font-size="17.2" fill="#fff" stroke="#fff" stroke-width="0.3" textLength="54.00" lengthAdjust="spacing">144.73</text>
<path d="M1677 651.3H1748q3 0 3 3V674.1q0 3 -3 3H1677z" fill="#2962ff"/>
<text x="1689.60" y="670.40" font-size="17.2" fill="#fff" stroke="#fff" stroke-width="0.3" textLength="54.00" lengthAdjust="spacing">142.97</text>
<path d="M1677 677.1H1748q3 0 3 3V700.7q0 3 -3 3H1677z" fill="#ff7f00"/>
<text x="1689.60" y="696.70" font-size="17.2" fill="#fff" stroke="#fff" stroke-width="0.3" textLength="54.00" lengthAdjust="spacing">137.49</text>
<path d="M1677 703.7H1748q3 0 3 3V725.8q0 3 -3 3H1677z" fill="#ff0000"/>
<text x="1689.60" y="721.90" font-size="17.2" fill="#fff" stroke="#fff" stroke-width="0.3" textLength="54.00" lengthAdjust="spacing">135.89</text>
<path d="M1677 728.8H1748q3 0 3 3V751.4q0 3 -3 3H1677z" fill="#2962ff"/>
<text x="1689.60" y="747.40" font-size="17.2" fill="#fff" stroke="#fff" stroke-width="0.3" textLength="54.00" lengthAdjust="spacing">130.62</text>
<path d="M1677 754.4H1748q3 0 3 3V778.0q0 3 -3 3H1677z" fill="#2962ff"/>
<text x="1689.60" y="772.40" font-size="17.2" fill="#fff" stroke="#fff" stroke-width="0.3" textLength="54.00" lengthAdjust="spacing">128.64</text>
<rect x="1682.7" y="53.9" width="70" height="36.4" rx="5.5" fill="#fff" stroke="#e8e8e8" stroke-width="1"/>
<text x="1687.60" y="77.90" font-size="18.4" fill="#0f0f0f" stroke="#0f0f0f" stroke-width="0.3" textLength="41.20" lengthAdjust="spacingAndGlyphs">USDT</text>
<path d="M1736.6 70.2L1740.2 73.6L1743.8 70.2" fill="none" stroke="#0f0f0f" stroke-width="1.7"/>
</svg>
</div>
<div id="legend">
<div class="abs" style="left:0;top:10px;width:505px;height:31.5px;background:rgba(255,255,255,0.5)"></div>
<div class="abs" style="left:0;top:109.7px;width:459px;height:31.5px;background:rgba(255,255,255,0.5)"></div>
<div class="abs" style="left:6.5px;top:10.6px;width:26.6px;height:26.6px;border-radius:50%;background:#d5eee9"></div>
<div class="abs" style="left:13.6px;top:17.7px;width:12.4px;height:12.4px;border-radius:50%;background:#089981"></div>
<span class="t" style="left:45.20px;top:14.70px;font-size:18px;line-height:20px;color:#0f0f0f;transform:scaleX(0.93);transform-origin:0 0;">O</span>
<span class="t" style="left:61.60px;top:14.70px;font-size:18px;line-height:20px;color:#089981;letter-spacing:0.069px;">145.51</span>
<span class="t" style="left:127.00px;top:14.70px;font-size:18px;line-height:20px;color:#0f0f0f;transform:scaleX(1.04);transform-origin:0 0;">H</span>
<span class="t" style="left:142.40px;top:14.70px;font-size:18px;line-height:20px;color:#089981;letter-spacing:0.189px;">148.41</span>
<span class="t" style="left:209.40px;top:14.70px;font-size:18px;line-height:20px;color:#0f0f0f;transform:scaleX(0.95);transform-origin:0 0;">L</span>
<span class="t" style="left:221.20px;top:14.70px;font-size:18px;line-height:20px;color:#089981;letter-spacing:0.229px;">143.37</span>
<span class="t" style="left:287.80px;top:14.70px;font-size:18px;line-height:20px;color:#0f0f0f;transform:scaleX(0.88);transform-origin:0 0;">C</span>
<span class="t" style="left:301.60px;top:14.70px;font-size:18px;line-height:20px;color:#089981;letter-spacing:0.309px;">146.49</span>
<span class="t" style="left:368.40px;top:14.70px;font-size:18px;line-height:20px;color:#089981;letter-spacing:0.114px;">+0.98</span>
<span class="t" style="left:423.40px;top:14.70px;font-size:18px;line-height:20px;color:#089981;letter-spacing:-0.277px;">(+0.67%)</span>
<div class="abs" style="left:6px;top:48.4px;width:91.4px;height:50.6px;border:1px solid #f23645;border-radius:8px;background:#fff"></div>
<div class="abs" style="left:150px;top:48.4px;width:92px;height:50.6px;border:1px solid #2962ff;border-radius:8px;background:#fff"></div>
<span class="t" style="left:23.40px;top:53.40px;font-size:16.6px;line-height:19px;color:#f23645;letter-spacing:1.245px;font-weight:700;-webkit-text-stroke:0;">146.49</span>
<span class="t" style="left:34.20px;top:74.00px;font-size:16.4px;line-height:18px;color:#f23645;transform:scaleX(0.8773);transform-origin:0 0;">SELL</span>
<span class="t" style="left:109.60px;top:66.00px;font-size:14.6px;line-height:16px;color:#0f0f0f;letter-spacing:0.061px;">0.00</span>
<span class="t" style="left:168.20px;top:53.40px;font-size:16.6px;line-height:19px;color:#2962ff;letter-spacing:1.245px;font-weight:700;-webkit-text-stroke:0;">146.49</span>
<span class="t" style="left:181.40px;top:74.00px;font-size:16.4px;line-height:18px;color:#2962ff;transform:scaleX(0.8896);transform-origin:0 0;">BUY</span>
<span class="t" style="left:7.60px;top:113.60px;font-size:18px;line-height:20px;color:#0f0f0f;transform:scaleX(0.9024);transform-origin:0 0;">EMA</span>
<span class="t" style="left:48.00px;top:113.60px;font-size:18px;line-height:20px;color:#0f0f0f;letter-spacing:1.457px;">20/50/100/200</span>
<span class="t" style="left:193.60px;top:113.60px;font-size:18px;line-height:20px;color:#ff0000;letter-spacing:0.389px;">135.89</span>
<span class="t" style="left:260.60px;top:113.60px;font-size:18px;line-height:20px;color:#ff7f00;letter-spacing:0.509px;">137.49</span>
<span class="t" style="left:328.00px;top:113.60px;font-size:18px;line-height:20px;color:#00ffff;letter-spacing:0.389px;">149.06</span>
<span class="t" style="left:395.40px;top:113.60px;font-size:18px;line-height:20px;color:#0000ff;letter-spacing:0.389px;">160.43</span>
<span class="t" style="left:7.50px;top:149.60px;font-size:18px;line-height:20px;color:#b3b3b3;letter-spacing:0.188px;">Vol</span>
<span class="t" style="left:40.40px;top:149.60px;font-size:18px;line-height:20px;color:#b3b3b3;">·</span>
<span class="t" style="left:52.20px;top:149.60px;font-size:18px;line-height:20px;color:#b3b3b3;transform:scaleX(0.9051);transform-origin:0 0;">SOL</span>
<svg class="abs" style="left:96px;top:146px" width="32" height="28" viewBox="96 193 32 28" fill="none" stroke="#0f0f0f" stroke-width="1.6"><path d="M100.4 206.6Q105.6 198.6 111.4 198.6Q117.4 198.6 122.4 206.6Q117.4 214.6 111.4 214.6Q105.6 214.6 100.4 206.6z"/><circle cx="111.4" cy="206.6" r="3.9"/><path d="M103 214.6L120.2 198.2" stroke-width="1.7"/></svg>
<div class="abs" style="left:6px;top:182px;width:43px;height:30px;border:1px solid #dcdcdc;border-radius:4px;background:#fff"></div>
<svg class="abs" style="left:18px;top:190px" width="18" height="14" viewBox="18 237 18 14" fill="none" stroke="#0f0f0f" stroke-width="1.9"><path d="M21.4 246.8L27.3 241.4L33.2 246.8"/></svg>
</div>
<div id="taxis">
<span class="t" style="left:152.60px;top:13.00px;font-size:16.6px;line-height:19px;color:#0f0f0f;letter-spacing:-0.169px;">Aug</span>
<span class="t" style="left:371.60px;top:13.00px;font-size:16.6px;line-height:19px;color:#0f0f0f;transform:scaleX(0.9683);transform-origin:0 0;">Sep</span>
<span class="t" style="left:584.00px;top:13.00px;font-size:16.6px;line-height:19px;color:#0f0f0f;letter-spacing:0.688px;">Oct</span>
<span class="t" style="left:802.60px;top:13.00px;font-size:16.6px;line-height:19px;color:#0f0f0f;letter-spacing:-0.060px;">Nov</span>
<span class="t" style="left:1013.40px;top:13.00px;font-size:16.6px;line-height:19px;color:#0f0f0f;letter-spacing:-0.060px;">Dec</span>
<span class="t" style="left:1227.80px;top:13.00px;font-size:16.6px;line-height:19px;color:#0f0f0f;letter-spacing:1.223px;font-weight:700;">2026</span>
<span class="t" style="left:1452.20px;top:13.00px;font-size:16.6px;line-height:19px;color:#0f0f0f;letter-spacing:-0.103px;">Feb</span>
<span class="t" style="left:1650.60px;top:13.00px;font-size:16.6px;line-height:19px;color:#0f0f0f;letter-spacing:0.205px;">Mar</span>
<div class="abs" style="left:1676px;top:0;width:75px;height:42px;background:#fff"></div>
<svg class="abs" style="left:1700px;top:6px" width="34" height="30" viewBox="1700 772 34 30" fill="none" stroke="#0f0f0f" stroke-width="1.4" stroke-linejoin="round"><path d="M1711.4 778.6H1722.2L1727.8 788L1722.2 797.4H1711.4L1705.8 788z"/><circle cx="1716.8" cy="788" r="3.3"/></svg>
</div>
<div id="bbar">
<span class="t" style="left:16.00px;top:17.00px;font-size:20.5px;line-height:23px;color:#0f0f0f;transform:scaleX(0.8624);transform-origin:0 0;">1D</span>
<span class="t" style="left:57.20px;top:17.00px;font-size:20.5px;line-height:23px;color:#0f0f0f;transform:scaleX(0.8891);transform-origin:0 0;">5D</span>
<span class="t" style="left:99.60px;top:17.00px;font-size:20.5px;line-height:23px;color:#0f0f0f;transform:scaleX(0.8884);transform-origin:0 0;">1M</span>
<span class="t" style="left:143.50px;top:17.00px;font-size:20.5px;line-height:23px;color:#0f0f0f;transform:scaleX(0.8884);transform-origin:0 0;">3M</span>
<span class="t" style="left:186.80px;top:17.00px;font-size:20.5px;line-height:23px;color:#0f0f0f;transform:scaleX(0.9059);transform-origin:0 0;">6M</span>
<span class="t" style="left:230.60px;top:17.00px;font-size:20.5px;line-height:23px;color:#0f0f0f;transform:scaleX(0.9000);transform-origin:0 0;">YTD</span>
<span class="t" style="left:286.10px;top:17.00px;font-size:20.5px;line-height:23px;color:#0f0f0f;transform:scaleX(0.8973);transform-origin:0 0;">1Y</span>
<span class="t" style="left:327.20px;top:17.00px;font-size:20.5px;line-height:23px;color:#0f0f0f;transform:scaleX(0.8973);transform-origin:0 0;">5Y</span>
<span class="t" style="left:367.70px;top:17.00px;font-size:20.5px;line-height:23px;color:#0f0f0f;letter-spacing:0.858px;">All</span>
<div class="vsep" style="left:407.6px;top:12.6px;height:33px;width:1.3px"></div>
<svg class="abs" style="left:424px;top:10px" width="38" height="36" viewBox="424 819 38 36" fill="none" stroke="#0f0f0f" stroke-width="1.5" stroke-linejoin="round"><path d="M431 838.5V831Q431 827.6 434.4 827.6H452.6Q456 827.6 456 831V846.4Q456 849.8 452.6 849.8H445.6"/><path d="M431 833.4H456M437.4 823.8V830.6M449.6 823.8V830.6"/><path d="M428.6 846.2H441M436.6 841.6L441.2 846.2L436.6 850.8"/></svg>
<span class="t" style="left:1614.40px;top:17.00px;font-size:20.5px;line-height:23px;color:#0f0f0f;letter-spacing:-0.057px;">23:44:56 UTC</span>
</div>
</body>
</html>
